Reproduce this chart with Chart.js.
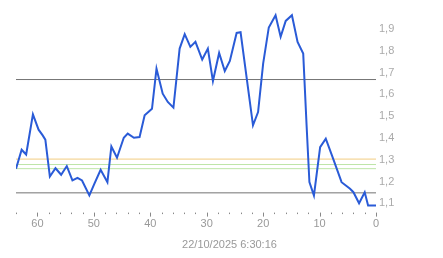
<!DOCTYPE html>
<html>
<head>
<meta charset="utf-8">
<script src="https://cdn.jsdelivr.net/npm/chart.js@4/dist/chart.umd.min.js"></script>
<style>
  html, body { margin: 0; padding: 0; background: #fff; }
  #wrap { width: 443px; height: 258px; }
</style>
</head>
<body>
<div id="wrap"><canvas id="c"></canvas></div>
<script>
// x = units ago (axis runs 64 -> 0), y = value
const xs = [63.8, 62.8, 62.0, 60.8, 59.8, 59.1, 58.6, 57.8, 56.8, 55.8, 54.8, 53.8, 52.9, 52.1, 50.8,
  49.9, 48.8, 47.6, 46.9, 45.9, 44.7, 44.0, 42.9, 41.9, 41.0, 39.7, 38.9, 37.8, 36.9, 35.9,
  34.8, 33.9, 32.9, 32.0, 30.8, 29.8, 28.9, 27.8, 26.8, 25.9, 24.7, 24.0, 21.8, 20.9, 20.0,
  19.0, 17.8, 16.9, 16.0, 14.9, 13.9, 12.9, 12.3, 11.8, 11.0, 9.9, 8.9, 7.6, 6.1, 4.6,
  4.0, 3.0, 2.0, 1.4, 0.0];
const values = [1.259, 1.346, 1.324, 1.508, 1.438, 1.413, 1.392, 1.223, 1.261, 1.231, 1.271, 1.205, 1.217, 1.205, 1.136,
  1.190, 1.254, 1.197, 1.361, 1.309, 1.401, 1.420, 1.401, 1.404, 1.504, 1.534, 1.718, 1.603, 1.565, 1.539,
  1.810, 1.876, 1.818, 1.841, 1.760, 1.810, 1.661, 1.790, 1.707, 1.753, 1.882, 1.885, 1.458, 1.519, 1.741,
  1.907, 1.963, 1.864, 1.937, 1.963, 1.841, 1.787, 1.457, 1.197, 1.136, 1.358, 1.397, 1.305, 1.197, 1.167,
  1.151, 1.100, 1.151, 1.090, 1.090];

// horizontal reference levels
const levelValues = [1.668, 1.148, 1.303, 1.278, 1.259];
const levelColors = ['#737373', '#737373', '#f2cc80', '#bde5a8', '#bde5a8'];

// labelled y ticks
const yTicks = [1.1, 1.2, 1.3, 1.4, 1.5, 1.6, 1.7, 1.8, 1.9];

const xMin = 0, xMax = 63.8;
const yMin = 1.062, yMax = 2.033;
const titleText = '22/10/2025 6:30:16';

const levelSets = levelValues.map((v, i) => ({
  data: [{ x: xMax, y: v }, { x: xMin, y: v }],
  borderColor: levelColors[i],
  borderWidth: 1,
  pointRadius: 0,
  order: 2
}));

// draws short minor ticks and longer major ticks under the plot
const tickMarks = {
  id: 'tickMarks',
  afterDraw(chart) {
    const sc = chart.scales.x;
    const ctx = chart.ctx;
    const top = chart.chartArea.bottom + 1;
    ctx.save();
    ctx.strokeStyle = '#888';
    ctx.lineWidth = 1;
    sc.ticks.forEach(t => {
      const px = Math.round(sc.getPixelForValue(t.value)) + 0.5;
      const len = (t.value % 10 === 0) ? 4 : 1.5;
      ctx.beginPath();
      ctx.moveTo(px, top);
      ctx.lineTo(px, top + len);
      ctx.stroke();
    });
    ctx.restore();
  }
};

new Chart(document.getElementById('c'), {
  type: 'line',
  data: {
    datasets: [{
      data: xs.map((x, i) => ({ x: x, y: values[i] })),
      borderColor: '#2a5bd7',
      borderWidth: 2,
      pointRadius: 0,
      tension: 0,
      order: 1
    }].concat(levelSets)
  },
  options: {
    responsive: true,
    maintainAspectRatio: false,
    animation: false,
    layout: { padding: { left: 16, top: 0, right: 0, bottom: 1 } },
    plugins: {
      legend: { display: false },
      tooltip: { enabled: false },
      title: {
        display: true,
        text: titleText,
        position: 'bottom',
        color: '#999',
        font: { family: 'Arial, "Liberation Sans"', size: 11, weight: 'normal' },
        padding: { top: 2, bottom: 5 }
      }
    },
    scales: {
      x: {
        type: 'linear',
        reverse: true,
        min: xMin,
        max: xMax,
        border: { display: false },
        grid: { display: false, drawTicks: false },
        ticks: {
          stepSize: 2,
          autoSkip: false,
          maxRotation: 0,
          padding: 6,
          color: '#999',
          font: { family: 'Arial, "Liberation Sans"', size: 11 },
          callback: v => (v % 10 === 0 ? String(v) : '')
        }
      },
      y: {
        position: 'right',
        min: yMin,
        max: yMax,
        border: { display: false },
        grid: { display: false, drawTicks: false },
        afterFit: s => { s.width = 67; s.paddingTop = 0; s.paddingBottom = 0; },
        afterBuildTicks: s => { s.ticks = yTicks.map(v => ({ value: v })); },
        ticks: {
          padding: 3,
          color: '#aaa',
          font: { family: 'Arial, "Liberation Sans"', size: 11 },
          callback: v => v.toFixed(1).replace('.', ',')
        }
      }
    }
  },
  plugins: [tickMarks]
});
</script>
</body>
</html>
